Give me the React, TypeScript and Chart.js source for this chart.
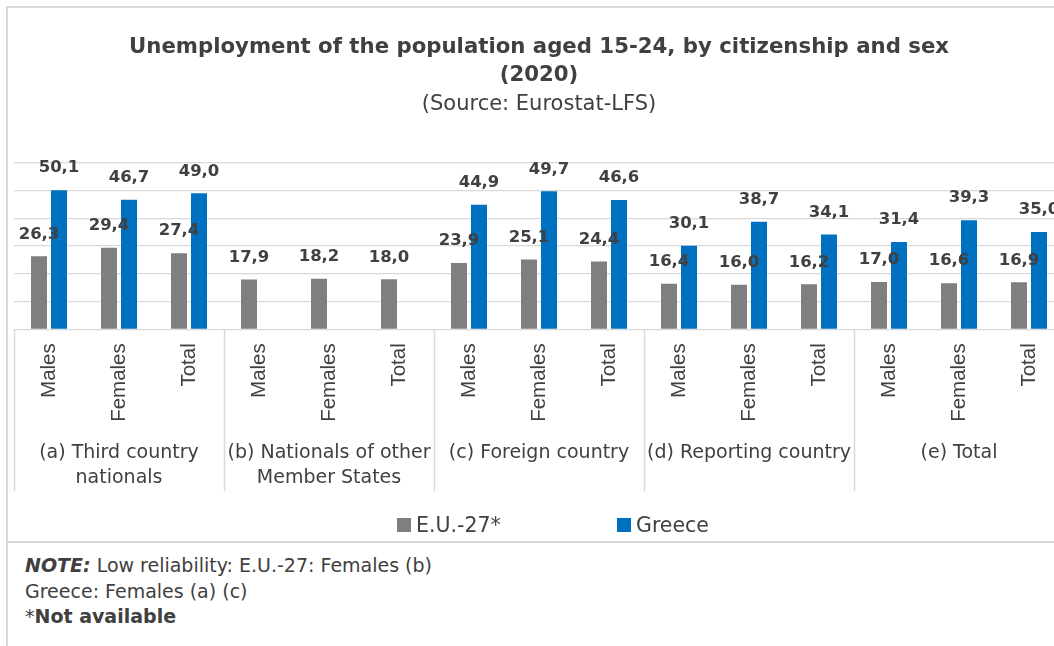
import React, { useEffect, useRef } from 'react';
import { Chart, registerables } from 'chart.js';

Chart.register(...registerables);

const categories = [
  'Males', 'Females', 'Total',
  'Males', 'Females', 'Total',
  'Males', 'Females', 'Total',
  'Males', 'Females', 'Total',
  'Males', 'Females', 'Total',
];
const groupLabels: (string | string[])[] = [
  ['(a) Third country', 'nationals'],
  ['(b) Nationals of other', 'Member States'],
  '(c) Foreign country',
  '(d) Reporting country',
  '(e) Total',
];
const euValues = [26.3, 29.4, 27.4, 17.9, 18.2, 18.0, 23.9, 25.1, 24.4, 16.4, 16.0, 16.2, 17.0, 16.6, 16.9];
const greeceValues: (number | null)[] = [50.1, 46.7, 49.0, null, null, null, 44.9, 49.7, 46.6, 30.1, 38.7, 34.1, 31.4, 39.3, 35.0];
const seriesNames = ['E.U.-27*', 'Greece'];
const yMin = 0;
const yMax = 60;
const yStep = 10;
const titleLines = ['Unemployment of the population aged 15-24, by citizenship and sex', '(2020)'];
const subtitleText = '(Source: Eurostat-LFS)';

const GRAY = '#7f7f7f';
const BLUE = '#0070c0';
const TEXT = '#404040';
const LINE = '#d9d9d9';
const FONT = '"DejaVu Sans", Verdana, sans-serif';

const fmt = (v: number) => v.toFixed(1).replace('.', ',');

const valueLabels = {
  id: 'valueLabels',
  afterDatasetsDraw(chart: any) {
    const ctx = chart.ctx;
    ctx.save();
    ctx.font = `bold 16.5px ${FONT}`;
    ctx.fillStyle = TEXT;
    ctx.textAlign = 'center';
    ctx.textBaseline = 'middle';
    chart.data.datasets.forEach((ds: any, di: number) => {
      const meta = chart.getDatasetMeta(di);
      meta.data.forEach((el: any, i: number) => {
        const v = ds.data[i];
        if (v == null) return;
        ctx.fillText(fmt(v), el.x, el.y - 22);
      });
    });
    ctx.restore();
  },
};

const groupSeparators = {
  id: 'groupSeparators',
  afterDraw(chart: any) {
    const x = chart.scales.x;
    const n = categories.length;
    const ctx = chart.ctx;
    const top = chart.chartArea.bottom;
    ctx.save();
    ctx.strokeStyle = LINE;
    ctx.lineWidth = 1.5;
    for (let i = 0; i <= n; i += 3) {
      const px = Math.round(x.left + (i * x.width) / n) + 0.5;
      ctx.beginPath();
      ctx.moveTo(px, top);
      ctx.lineTo(px, top + 162);
      ctx.stroke();
    }
    ctx.restore();
  },
};

export default function App() {
  const ref = useRef<HTMLCanvasElement | null>(null);

  useEffect(() => {
    if (!ref.current) return;
    const groupTicks = categories.map((_, i) => (i % 3 === 1 ? groupLabels[(i - 1) / 3] : ''));
    const chart = new Chart(ref.current, {
      type: 'bar',
      data: {
        labels: categories,
        datasets: [
          {
            label: seriesNames[0],
            data: euValues,
            backgroundColor: GRAY,
            barPercentage: 0.8,
            categoryPercentage: 0.5714,
          },
          {
            label: seriesNames[1],
            data: greeceValues,
            backgroundColor: BLUE,
            barPercentage: 0.8,
            categoryPercentage: 0.5714,
          },
        ],
      },
      options: {
        animation: false,
        responsive: false,
        devicePixelRatio: 1,
        layout: { padding: { left: 6, right: 10, top: 0, bottom: 45 } },
        plugins: {
          legend: { display: false },
          tooltip: { enabled: false },
          title: {
            display: true,
            text: titleLines,
            color: TEXT,
            font: { family: FONT, size: 21.25, weight: 'bold', lineHeight: 1.33 },
            padding: { top: 25, bottom: 2 },
          },
          subtitle: {
            display: true,
            text: subtitleText,
            color: TEXT,
            font: { family: FONT, size: 21, lineHeight: 1.2 },
            padding: { top: 0, bottom: 46 },
          },
        },
        scales: {
          y: {
            min: yMin,
            max: yMax,
            ticks: { display: false, stepSize: yStep },
            grid: { color: LINE, lineWidth: 1.2, drawTicks: false },
            border: { display: false },
          },
          x: {
            offset: true,
            grid: { display: false, drawTicks: false },
            border: { display: false },
            ticks: {
              color: TEXT,
              font: { family: '"Liberation Sans", Arial, sans-serif', size: 20.5 },
              minRotation: 90,
              maxRotation: 90,
              autoSkip: false,
              padding: 14,
            },
          },
          x2: {
            type: 'category',
            position: 'bottom',
            labels: groupTicks as any,
            offset: true,
            grid: { display: false, drawTicks: false },
            border: { display: false },
            ticks: {
              color: TEXT,
              font: { family: FONT, size: 19, lineHeight: 1.32 },
              minRotation: 0,
              maxRotation: 0,
              autoSkip: false,
              padding: 5,
            },
          },
        },
      },
      plugins: [valueLabels, groupSeparators],
    } as any);
    return () => chart.destroy();
  }, []);

  const legendItem = (color: string, text: string, left: number) => (
    <div
      style={{
        position: 'absolute',
        left,
        top: 512,
        height: 26,
        display: 'flex',
        alignItems: 'center',
        fontFamily: FONT,
        fontSize: 20.5,
        color: TEXT,
        whiteSpace: 'nowrap',
      }}
    >
      <span style={{ display: 'inline-block', width: 14, height: 14, background: color, marginRight: 5 }} />
      <span>{text}</span>
    </div>
  );

  return (
    <div
      style={{
        position: 'absolute',
        left: 0,
        top: 0,
        width: 1054,
        height: 646,
        overflow: 'hidden',
        background: '#fff',
      }}
    >
      <div style={{ position: 'absolute', left: 6, top: 6, width: 2, height: 640, background: LINE }} />
      <div style={{ position: 'absolute', left: 6, top: 6, width: 1100, height: 2, background: LINE }} />
      <div style={{ position: 'absolute', left: 6, top: 541, width: 1100, height: 2, background: LINE }} />
      <canvas ref={ref} width={1066} height={533} style={{ position: 'absolute', left: 8, top: 8 }} />
      {legendItem(GRAY, seriesNames[0], 397)}
      {legendItem(BLUE, seriesNames[1], 617)}
      <div
        style={{
          position: 'absolute',
          left: 25,
          top: 553,
          fontFamily: FONT,
          fontSize: 19,
          lineHeight: '25.5px',
          color: TEXT,
        }}
      >
        <div>
          <b><i>NOTE:</i></b> Low reliability: E.U.-27: Females (b)
        </div>
        <div>Greece: Females (a) (c)</div>
        <div>
          *<b>Not available</b>
        </div>
      </div>
    </div>
  );
}
